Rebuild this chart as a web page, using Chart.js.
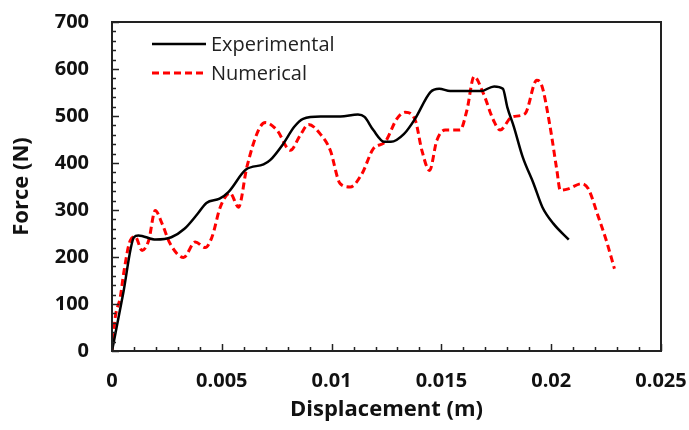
<!DOCTYPE html>
<html>
<head>
<meta charset="utf-8">
<script src="https://cdn.jsdelivr.net/npm/chart.js@4/dist/chart.umd.min.js"></script>
<style>
  body { margin: 0; background: #fff; }
  #wrap { width: 689px; height: 430px; }
</style>
</head>
<body>
<div id="wrap"><canvas id="chart1" width="689" height="430"></canvas></div>
<script>
// displacement (m) and force (N)
const expX = [0, 0.0005, 0.001, 0.0012, 0.002, 0.0027, 0.0033, 0.0039, 0.0043, 0.0049, 0.0053, 0.0061, 0.0069, 0.0072, 0.0078, 0.0083, 0.0087, 0.0095, 0.0104, 0.0112, 0.0115, 0.0119, 0.0124, 0.0127, 0.0133, 0.0138, 0.0145, 0.0149, 0.0154, 0.0168, 0.0174, 0.0178, 0.018, 0.0183, 0.0187, 0.0192, 0.0196, 0.0201, 0.0208]
const expY = [0, 120, 242, 246, 237, 242, 260, 292, 315, 324, 338, 386, 397, 406, 441, 477, 494, 499, 499, 503, 498, 470, 445, 445, 462, 494, 551, 558, 553, 553, 563, 558, 519, 477, 413, 356, 306, 271, 237]

const numX = [0, 0.00015, 0.00038, 0.00053, 0.00083, 0.00106, 0.00137, 0.00167, 0.00197, 0.00228, 0.00265, 0.00326, 0.00379, 0.00425, 0.00455, 0.00493, 0.00538, 0.00576, 0.00614, 0.00667, 0.00698, 0.00751, 0.00812, 0.00857, 0.00895, 0.00948, 0.00994, 0.01039, 0.01085, 0.01138, 0.01191, 0.01244, 0.01297, 0.01335, 0.01381, 0.01411, 0.01446, 0.01479, 0.01517, 0.01585, 0.01616, 0.01649, 0.01691, 0.01737, 0.01767, 0.01821, 0.01881, 0.01934, 0.01957, 0.01995, 0.02026, 0.02041, 0.02078, 0.02139, 0.02169, 0.02215, 0.02253, 0.02288]
const numY = [0, 72, 115, 165, 235, 243, 214, 235, 299, 271, 228, 199, 232, 220, 242, 306, 336, 306, 391, 470, 486, 470, 427, 459, 482, 462, 427, 356, 349, 377, 431, 445, 494, 508, 491, 427, 384, 448, 470, 470, 512, 584, 548, 491, 470, 498, 505, 576, 565, 477, 384, 342, 345, 356, 345, 285, 232, 175]

const xMin = 0, xMax = 0.025, xStep = 0.005, xMinor = 0.001
const yMin = 0, yMax = 700, yStep = 100, yMinor = 20

const toPoints = (xs, ys) => xs.map((x, i) => ({x: x, y: ys[i]}))

const bold = {family: 'Open Sans', weight: 'bold', size: 20}

// frame, inward tick marks and the legend inside the plot
const framePlugin = {
  id: 'frame',
  afterDatasetsDraw(chart) {
    const ctx = chart.ctx
    const a = chart.chartArea
    const xs = chart.scales.x, ys = chart.scales.y
    ctx.save()
    ctx.strokeStyle = '#222'
    ctx.lineWidth = 1.5
    for (let v = xMin; v <= xMax + 1e-9; v += xMinor) {
      const px = Math.round(xs.getPixelForValue(v)) + 0.5
      const major = Math.abs(v / xStep - Math.round(v / xStep)) < 1e-6
      ctx.beginPath()
      ctx.moveTo(px, a.bottom)
      ctx.lineTo(px, a.bottom - (major ? 7 : 4))
      ctx.stroke()
    }
    for (let v = yMin; v <= yMax; v += yMinor) {
      const py = Math.round(ys.getPixelForValue(v)) + 0.5
      const major = v % yStep === 0
      ctx.beginPath()
      ctx.moveTo(a.left, py)
      ctx.lineTo(a.left + (major ? 7 : 4), py)
      ctx.stroke()
    }
    ctx.lineWidth = 2
    ctx.strokeRect(a.left, a.top, a.right - a.left, a.bottom - a.top)

    // legend
    const rows = [44, 73]
    chart.data.datasets.forEach((ds, i) => {
      ctx.strokeStyle = ds.borderColor
      ctx.lineWidth = ds.borderWidth
      ctx.setLineDash(ds.borderDash || [])
      ctx.beginPath()
      ctx.moveTo(152, rows[i])
      ctx.lineTo(206, rows[i])
      ctx.stroke()
      ctx.setLineDash([])
      ctx.fillStyle = '#222'
      ctx.font = '20px "Open Sans"'
      ctx.textBaseline = 'middle'
      ctx.fillText(ds.label, 211, rows[i] + 1)
    })
    ctx.restore()
  }
}

new Chart(
  document.getElementById('chart1'),
  {
    type: 'line',
    data: {
      datasets: [
        {label: 'Experimental', data: toPoints(expX, expY), borderColor: '#000', borderWidth: 2.5,
         pointRadius: 0, cubicInterpolationMode: 'monotone', fill: false},
        {label: 'Numerical', data: toPoints(numX, numY), borderColor: '#ff0000', borderWidth: 3,
         borderDash: [7, 4], pointRadius: 0, cubicInterpolationMode: 'monotone', fill: false}
      ]
    },
    options: {
      responsive: false,
      animation: false,
      layout: {padding: {top: 22, right: 28, left: 0, bottom: 0}},
      plugins: {legend: {display: false}, tooltip: {enabled: false}},
      scales: {
        x: {
          type: 'linear', min: xMin, max: xMax,
          grid: {display: false, drawTicks: false},
          border: {display: false},
          ticks: {stepSize: xStep, padding: 18, color: '#111', font: bold, maxRotation: 0,
                  callback: v => String(parseFloat(v.toFixed(3)))},
          title: {display: true, text: 'Displacement (m)', color: '#111',
                  font: {family: 'Open Sans', weight: 'bold', size: 22}, padding: {top: 0, bottom: 7}},
          afterFit(scale) { scale.height = 79; scale.paddingLeft = 0; scale.paddingRight = 0 }
        },
        y: {
          min: yMin, max: yMax,
          grid: {display: false, drawTicks: false},
          border: {display: false},
          ticks: {stepSize: yStep, padding: 23, color: '#111', font: bold},
          title: {display: true, text: 'Force (N)', color: '#111',
                  font: {family: 'Open Sans', weight: 'bold', size: 22}, padding: {top: 9, bottom: 0}},
          afterFit(scale) { scale.width = 112; scale.paddingTop = 0; scale.paddingBottom = 0 }
        }
      }
    },
    plugins: [framePlugin]
  }
)
</script>
</body>
</html>
